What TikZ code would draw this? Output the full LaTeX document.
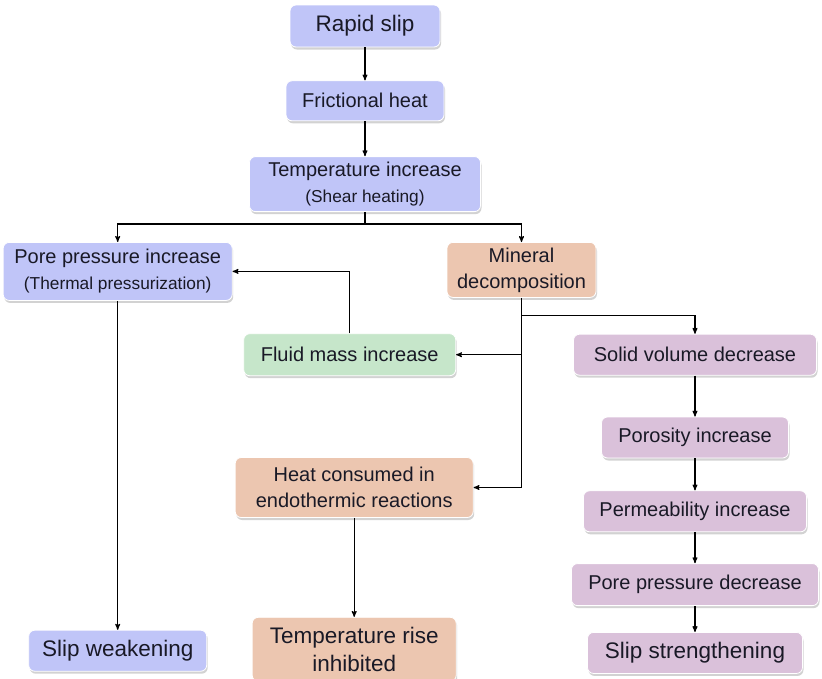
\documentclass[tikz,border=0pt]{standalone}
\usepackage{fontspec}
\setmainfont{Liberation Sans}
\usepackage{tikz}
\usetikzlibrary{arrows,positioning,shadows}

\definecolor{boxblue}{RGB}{192,197,248}
\definecolor{boxtan}{RGB}{236,198,176}
\definecolor{boxgreen}{RGB}{198,230,202}
\definecolor{boxpink}{RGB}{218,193,218}
\definecolor{boxtext}{RGB}{25,25,38}

\begin{document}
\begin{tikzpicture}[x=1pt,y=1pt,->,>=stealth',line width=1.1pt,
    box/.style={rectangle,rounded corners=6pt,draw=white,line width=0.8pt,text=boxtext,align=center,inner sep=2pt,
      font=\fontsize{20}{26}\selectfont,
      drop shadow={shadow xshift=1pt,shadow yshift=-2.5pt,opacity=0.25,fill=black!70}},
    big/.style={font=\fontsize{22.5}{28}\selectfont},
    bluebox/.style={box,fill=boxblue},
    tanbox/.style={box,fill=boxtan},
    greenbox/.style={box,fill=boxgreen},
    pinkbox/.style={box,fill=boxpink}]
    \useasboundingbox (0,0) rectangle (822,-678);
    % main chain
    \node[bluebox,big,minimum width=150pt,minimum height=42pt] (slip) at (365,-26) {Rapid slip} ;
    \node[bluebox,minimum width=158pt,minimum height=40pt] (heat) [below=33pt of slip] {Frictional heat} ;
    \node[bluebox,minimum width=231pt,minimum height=55pt] (temp) [below=35pt of heat] {Temperature increase\\{\fontsize{17.3}{21}\selectfont (Shear heating)}} ;
    \node[bluebox,minimum width=229pt,minimum height=58pt] (pore) [below left=30pt and 16.5pt of temp] {Pore pressure increase\\{\fontsize{17.3}{21}\selectfont (Thermal pressurization)}} ;
    \node[tanbox,minimum width=149pt,minimum height=55pt] (mineral) [below=30pt of temp,xshift=156.5pt] {Mineral\\decomposition} ;
    % right column
    \node[pinkbox,minimum width=243pt,minimum height=41pt] (solid) [below=36pt of mineral,xshift=173.5pt] {Solid volume decrease} ;
    \node[pinkbox,minimum width=187pt,minimum height=41pt] (porosity) [below=41pt of solid] {Porosity increase} ;
    \node[pinkbox,minimum width=223pt,minimum height=41pt] (perm) [below=32pt of porosity] {Permeability increase} ;
    \node[pinkbox,minimum width=247pt,minimum height=42pt] (ppd) [below=31pt of perm] {Pore pressure decrease} ;
    \node[pinkbox,big,minimum width=215pt,minimum height=41pt] (strength) [below=26pt of ppd] {Slip strengthening} ;
    % middle column
    \node[greenbox,minimum width=212pt,minimum height=42pt] (fluid) [left=117pt of solid] {Fluid mass increase} ;
    \node[tanbox,minimum width=238pt,minimum height=60pt] (endo) [below=81pt of fluid,xshift=4.5pt] {Heat consumed in\\endothermic reactions} ;
    \node[tanbox,big,minimum width=204pt,minimum height=64pt] (inhib) [below=99pt of endo] {Temperature rise\\inhibited} ;
    % left column
    \node[bluebox,big,minimum width=178pt,minimum height=41pt] (weak) [below=329pt of pore] {Slip weakening} ;
    \coordinate [below=12pt of temp] (fork) ;
    \coordinate [below=18pt of mineral] (split) ;
    \coordinate (junction) at (mineral |- fluid) ;
    \draw (slip) -- (heat) ;
    \draw (heat) -- (temp) ;
    \draw (temp) -- (fork) -| (pore) ;
    \draw (fork) -| (mineral) ;
    \draw (fluid.north) |- (pore.east) ;
    \draw (mineral) |- (endo) ;
    \draw (junction) -- (fluid) ;
    \draw (split) -| (solid) ;
    \draw (solid) -- (porosity) ;
    \draw (porosity) -- (perm) ;
    \draw (perm) -- (ppd) ;
    \draw (ppd) -- (strength) ;
    \draw (pore) -- (weak) ;
    \draw (endo) -- (inhib) ;
\end{tikzpicture}
\end{document}
